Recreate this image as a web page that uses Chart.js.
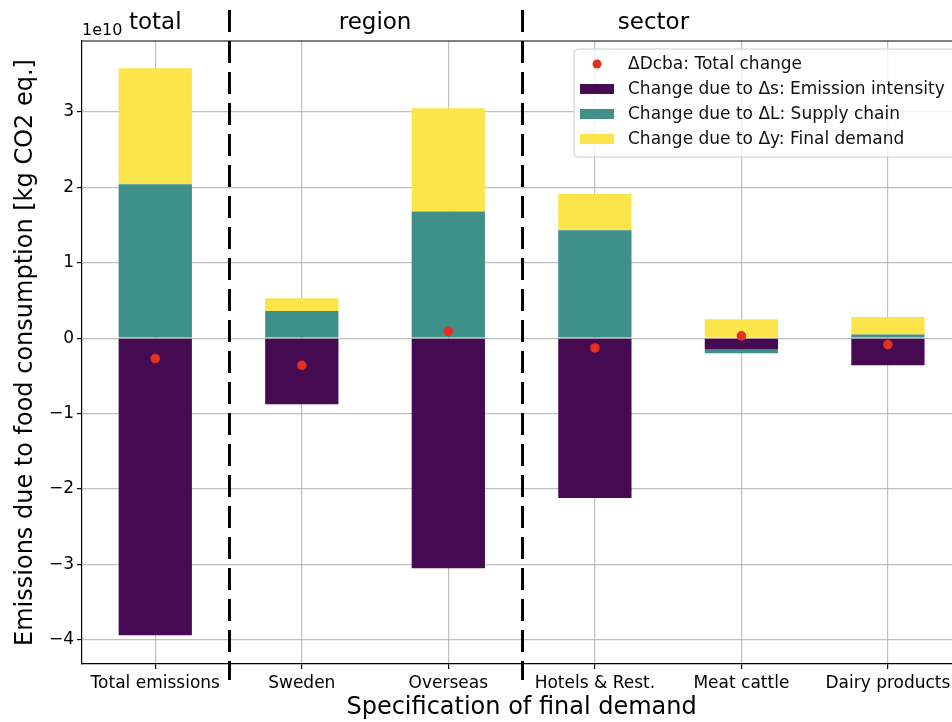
<!DOCTYPE html>
<html>
<head>
<meta charset="utf-8">
<script src="https://cdn.jsdelivr.net/npm/chart.js@4"></script>
<style>
  html, body { margin: 0; padding: 0; overflow: hidden; background: #fff; }
  #wrap { position: absolute; left: 0; top: 0; width: 966px; height: 722px; }
</style>
</head>
<body>
<div id="wrap"><canvas id="c" width="966" height="722"></canvas></div>
<script>
// Final-demand groups shown on the x axis
const categories = ['Total emissions', 'Sweden', 'Overseas', 'Hotels & Rest.', 'Meat cattle', 'Dairy products'];

// Decomposition of the change in consumption-based emissions [kg CO2 eq.]
const intensityChange = [-3.94e10, -0.875e10, -3.05e10, -2.12e10, -0.15e10, -0.36e10];
const supplyChainChange = [2.04e10, 0.36e10, 1.68e10, 1.43e10, -0.05e10, 0.05e10];
const finalDemandChange = [1.54e10, 0.17e10, 1.37e10, 0.48e10, 0.25e10, 0.23e10];
const totalChange = [-0.27e10, -0.36e10, 0.09e10, -0.13e10, 0.03e10, -0.085e10];

// y tick values
const yTicks = [-4e10, -3e10, -2e10, -1e10, 0, 1e10, 2e10, 3e10];

// Group headings and the category positions of headings / separators
const sections = ['total', 'region', 'sector'];
const sectionAt = [0, 1.5, 3.4];
const separatorsAt = [0.5, 2.5];

const FONT = '"DejaVu Sans", sans-serif';

const overlay = {
  id: 'overlay',
  afterDraw(chart) {
    const { ctx, chartArea: a, scales: { x } } = chart;
    ctx.save();

    // top spine
    ctx.strokeStyle = '#000';
    ctx.lineWidth = 1.2;
    ctx.beginPath();
    ctx.moveTo(a.left, a.top);
    ctx.lineTo(a.right, a.top);
    ctx.stroke();

    // dashed group separators
    ctx.lineWidth = 3;
    ctx.setLineDash([22, 9]);
    separatorsAt.forEach(v => {
      const px = Math.round(x.getPixelForValue(v)) + 0.5;
      ctx.beginPath();
      ctx.moveTo(px, 10);
      ctx.lineTo(px, 680);
      ctx.stroke();
    });
    ctx.setLineDash([]);

    // group headings
    ctx.fillStyle = '#000';
    ctx.font = '23px ' + FONT;
    ctx.textAlign = 'center';
    ctx.textBaseline = 'alphabetic';
    sections.forEach((s, i) => ctx.fillText(s, x.getPixelForValue(sectionAt[i]), 29));

    // axis multiplier
    ctx.font = '16px ' + FONT;
    ctx.textAlign = 'left';
    ctx.fillText('1e10', a.left, 35);

    // legend
    const bx = 574, by = 49, bw = 400, bh = 108, r = 4;
    ctx.beginPath();
    ctx.moveTo(bx + r, by);
    ctx.lineTo(bx + bw, by);
    ctx.lineTo(bx + bw, by + bh);
    ctx.lineTo(bx + r, by + bh);
    ctx.arcTo(bx, by + bh, bx, by + bh - r, r);
    ctx.lineTo(bx, by + r);
    ctx.arcTo(bx, by, bx + r, by, r);
    ctx.closePath();
    ctx.fillStyle = 'rgba(255,255,255,0.8)';
    ctx.fill();
    ctx.strokeStyle = '#cccccc';
    ctx.lineWidth = 1;
    ctx.stroke();

    ctx.font = '17px ' + FONT;
    ctx.textBaseline = 'middle';
    chart.data.datasets.forEach((ds, i) => {
      const ry = by + 15 + i * 25;
      if (ds.type === 'line') {
        ctx.fillStyle = ds.pointBackgroundColor;
        ctx.beginPath();
        ctx.arc(597, ry, 4.5, 0, Math.PI * 2);
        ctx.fill();
      } else {
        ctx.fillStyle = ds.backgroundColor;
        ctx.fillRect(580, ry - 5, 34, 10);
      }
      ctx.fillStyle = '#111';
      ctx.fillText(ds.label, 628, ry + 1);
    });

    ctx.restore();
  }
};

const barCommon = { barPercentage: 0.5, categoryPercentage: 1.0, borderWidth: 0, order: 1 };

new Chart(document.getElementById('c'), {
  type: 'bar',
  data: {
    labels: categories,
    datasets: [
      {
        type: 'line',
        label: 'ΔDcba: Total change',
        data: totalChange,
        showLine: false,
        pointRadius: 4.8,
        pointHoverRadius: 4.8,
        pointBackgroundColor: '#e6301f',
        pointBorderWidth: 0,
        stack: 'dots',
        order: 0
      },
      Object.assign({ label: 'Change due to Δs: Emission intensity', data: intensityChange, backgroundColor: '#460a52' }, barCommon),
      Object.assign({ label: 'Change due to ΔL: Supply chain', data: supplyChainChange, backgroundColor: '#40908a' }, barCommon),
      Object.assign({ label: 'Change due to Δy: Final demand', data: finalDemandChange, backgroundColor: '#fbe54b' }, barCommon)
    ]
  },
  options: {
    responsive: false,
    devicePixelRatio: 1,
    animation: false,
    layout: { padding: { top: 41, right: 0, left: 0, bottom: 0 } },
    plugins: { legend: { display: false }, tooltip: { enabled: false } },
    scales: {
      x: {
        stacked: true,
        offset: true,
        z: 1,
        grid: { offset: false, color: 'rgba(176,176,176,0.8)', lineWidth: 1.2, tickColor: '#000', tickLength: 5, tickWidth: 1.2 },
        border: { color: '#000', width: 1.2 },
        ticks: { color: '#000', font: { family: FONT, size: 17 }, padding: 4, maxRotation: 0, autoSkip: false },
        title: { display: true, text: 'Specification of final demand', color: '#000', font: { family: FONT, size: 24 }, padding: { top: 0, bottom: 0 } },
        afterFit: s => { s.height = 58; s.paddingLeft = 0; s.paddingRight = 0; }
      },
      y: {
        stacked: true,
        min: -4.32e10,
        max: 3.94e10,
        z: 1,
        afterBuildTicks: s => { s.ticks = yTicks.map(v => ({ value: v })); },
        grid: { color: 'rgba(176,176,176,0.8)', lineWidth: 1.2, tickColor: '#000', tickLength: 5, tickWidth: 1.2 },
        border: { color: '#000', width: 1.2 },
        ticks: {
          color: '#000',
          font: { family: FONT, size: 17 },
          padding: 3,
          callback: v => {
            const n = Math.round(v / 1e10);
            return n < 0 ? '\u2212' + Math.abs(n) : String(n);
          }
        },
        title: { display: true, text: 'Emissions due to food consumption [kg CO2 eq.]', color: '#000', font: { family: FONT, size: 24 }, padding: { top: 11, bottom: 0 } },
        afterFit: s => { s.width = 82; s.paddingTop = 0; s.paddingBottom = 0; }
      }
    }
  },
  plugins: [overlay]
});
</script>
</body>
</html>
